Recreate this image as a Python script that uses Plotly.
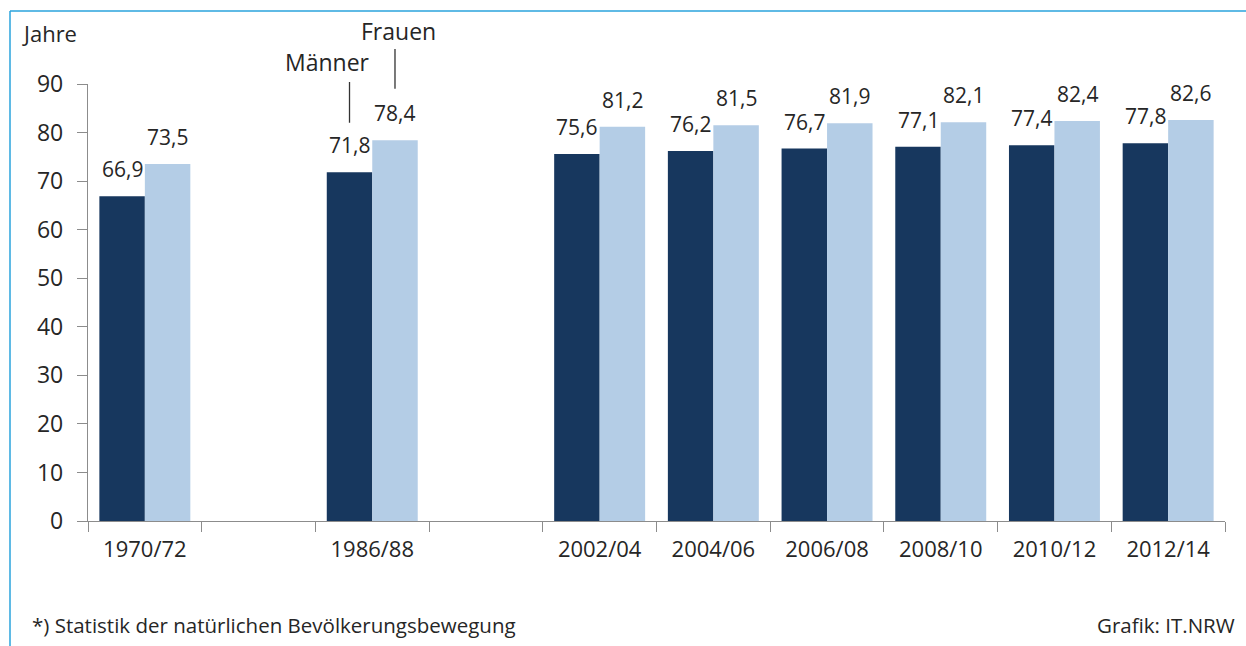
import plotly.graph_objects as go

categories = ["1970/72", "", "1986/88", "", "2002/04", "2004/06", "2006/08", "2008/10", "2010/12", "2012/14"]
maenner = [66.9, None, 71.8, None, 75.6, 76.2, 76.7, 77.1, 77.4, 77.8]
frauen = [73.5, None, 78.4, None, 81.2, 81.5, 81.9, 82.1, 82.4, 82.6]
y_ticks = [0, 10, 20, 30, 40, 50, 60, 70, 80, 90]

DARK = "#17375E"
LIGHT = "#B4CDE6"
TXT = "#262626"
FONT = "Open Sans, Liberation Sans, sans-serif"
BW = 0.4

slots = list(range(len(categories)))
xs_m = [s - BW / 2 for s, v in zip(slots, maenner) if v is not None]
ys_m = [v for v in maenner if v is not None]
xs_f = [s + BW / 2 for s, v in zip(slots, frauen) if v is not None]
ys_f = [v for v in frauen if v is not None]

fig = go.Figure()
fig.add_trace(go.Bar(x=xs_m, y=ys_m, width=BW, marker=dict(color=DARK, line=dict(width=0)), name="Männer"))
fig.add_trace(go.Bar(x=xs_f, y=ys_f, width=BW, marker=dict(color=LIGHT, line=dict(width=0)), name="Frauen"))

annotations = []
for x, y in list(zip(xs_m, ys_m)) + list(zip(xs_f, ys_f)):
    annotations.append(dict(x=x, y=y, xref="x", yref="y", text=f"{y:.1f}".replace(".", ","),
                            showarrow=False, yanchor="bottom", yshift=11,
                            font=dict(size=21, color=TXT, family=FONT)))

# Legend callouts
annotations += [
    dict(x=2 - BW / 2, y=82.0, ax=2 - BW / 2, ay=90.7, xref="x", yref="y", axref="x", ayref="y",
         text="", showarrow=True, arrowhead=0, arrowwidth=1.3, arrowcolor="#333333", standoff=0, startstandoff=0),
    dict(x=2 + BW / 2, y=89.0, ax=2 + BW / 2, ay=97.5, xref="x", yref="y", axref="x", ayref="y",
         text="", showarrow=True, arrowhead=0, arrowwidth=1.3, arrowcolor="#333333", standoff=0, startstandoff=0),
    dict(x=2 - BW / 2 + 0.2, y=1.050, xref="x", yref="paper", text="Männer", showarrow=False,
         xanchor="right", yanchor="middle", font=dict(size=23, color=TXT, family=FONT)),
    dict(x=2 + BW / 2 - 0.32, y=1.121, xref="x", yref="paper", text="Frauen", showarrow=False,
         xanchor="left", yanchor="middle", font=dict(size=23, color=TXT, family=FONT)),
    dict(x=-0.06, y=1.117, xref="paper", yref="paper", text="Jahre", showarrow=False,
         xanchor="left", yanchor="middle", font=dict(size=22, color=TXT, family=FONT)),
    dict(x=-0.051, y=-0.238, xref="paper", yref="paper", text="*) Statistik der natürlichen Bevölkerungsbewegung",
         showarrow=False, xanchor="left", yanchor="middle", font=dict(size=20.5, color=TXT, family=FONT)),
    dict(x=1.0106, y=-0.238, xref="paper", yref="paper", text="Grafik: IT.NRW",
         showarrow=False, xanchor="right", yanchor="middle", font=dict(size=20.5, color=TXT, family=FONT)),
]

fig.update_layout(
    width=1246, height=646,
    margin=dict(l=88, r=21, t=84, b=125),
    paper_bgcolor="white", plot_bgcolor="white",
    showlegend=False, barmode="overlay",
    font=dict(family=FONT, color=TXT),
    annotations=annotations,
    shapes=[dict(type="line", xref="paper", yref="paper", x0=-0.0686, x1=1.2, y0=1.167, y1=1.167,
                 line=dict(color="#2AA3DC", width=1.5)),
            dict(type="line", xref="paper", yref="paper", x0=-0.0686, x1=-0.0686, y0=1.167, y1=-0.5,
                 line=dict(color="#2AA3DC", width=1.5))],
)
fig.update_xaxes(
    range=[-0.5, len(categories) - 0.5], tickmode="array", tickvals=slots, ticktext=categories,
    ticks="", showline=True, linecolor="#8c8c8c", linewidth=1.3, showgrid=False, zeroline=False,
    tickfont=dict(size=22, color=TXT, family=FONT), ticklabelstandoff=8,
    minor=dict(tickmode="array", tickvals=[s - 0.5 for s in slots] + [len(categories) - 0.5],
               ticks="outside", ticklen=10, tickcolor="#8c8c8c", tickwidth=1.3, showgrid=False),
)
fig.update_yaxes(
    range=[0, 90], tickmode="array", tickvals=y_ticks, ticks="outside", ticklen=10,
    tickcolor="#8c8c8c", tickwidth=1.3, showline=True, linecolor="#8c8c8c", linewidth=1.3,
    showgrid=False, zeroline=False, ticklabelstandoff=9,
    tickfont=dict(size=23, color=TXT, family=FONT),
)
fig.write_html("out.html", config={"displayModeBar": False},
               post_script="document.body.style.margin='0';")
